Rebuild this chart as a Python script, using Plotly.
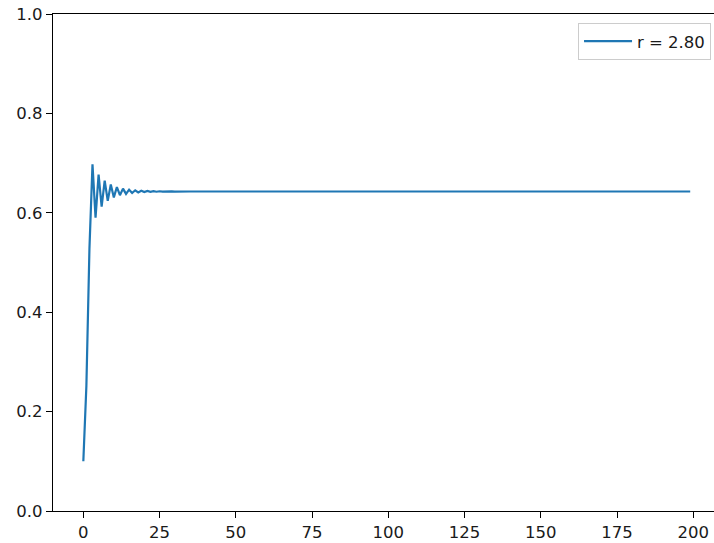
import plotly.graph_objects as go

# iteration index
steps = list(range(200))

# population values (r = 2.80)
head = [0.1, 0.252, 0.5278, 0.6978, 0.5904, 0.6771, 0.6122, 0.6648, 0.6240, 0.6570,
        0.6310, 0.6519, 0.6354, 0.6487, 0.6381, 0.6466, 0.6398, 0.6453, 0.6409, 0.6444,
        0.6416, 0.6439, 0.6421, 0.6435, 0.6424, 0.6433, 0.6425, 0.6431, 0.6427, 0.6430,
        0.6427, 0.6430, 0.6428, 0.6429, 0.6428]
tail = [0.6429, 0.6429, 0.6429, 0.6429, 0.6429, 0.6429, 0.6429, 0.6429, 0.6429, 0.6429,
        0.6429, 0.6429, 0.6429, 0.6429, 0.6429, 0.6429, 0.6429, 0.6429, 0.6429, 0.6429,
        0.6429, 0.6429, 0.6429, 0.6429, 0.6429, 0.6429, 0.6429, 0.6429, 0.6429, 0.6429,
        0.6429, 0.6429, 0.6429, 0.6429, 0.6429, 0.6429, 0.6429, 0.6429, 0.6429, 0.6429,
        0.6429, 0.6429, 0.6429, 0.6429, 0.6429, 0.6429, 0.6429, 0.6429, 0.6429, 0.6429,
        0.6429, 0.6429, 0.6429, 0.6429, 0.6429, 0.6429, 0.6429, 0.6429, 0.6429, 0.6429,
        0.6429, 0.6429, 0.6429, 0.6429, 0.6429, 0.6429, 0.6429, 0.6429, 0.6429, 0.6429,
        0.6429, 0.6429, 0.6429, 0.6429, 0.6429, 0.6429, 0.6429, 0.6429, 0.6429, 0.6429,
        0.6429, 0.6429, 0.6429, 0.6429, 0.6429, 0.6429, 0.6429, 0.6429, 0.6429, 0.6429,
        0.6429, 0.6429, 0.6429, 0.6429, 0.6429, 0.6429, 0.6429, 0.6429, 0.6429, 0.6429,
        0.6429, 0.6429, 0.6429, 0.6429, 0.6429, 0.6429, 0.6429, 0.6429, 0.6429, 0.6429,
        0.6429, 0.6429, 0.6429, 0.6429, 0.6429, 0.6429, 0.6429, 0.6429, 0.6429, 0.6429,
        0.6429, 0.6429, 0.6429, 0.6429, 0.6429, 0.6429, 0.6429, 0.6429, 0.6429, 0.6429,
        0.6429, 0.6429, 0.6429, 0.6429, 0.6429, 0.6429, 0.6429, 0.6429, 0.6429, 0.6429,
        0.6429, 0.6429, 0.6429, 0.6429, 0.6429, 0.6429, 0.6429, 0.6429, 0.6429, 0.6429,
        0.6429, 0.6429, 0.6429, 0.6429, 0.6429, 0.6429, 0.6429, 0.6429, 0.6429, 0.6429,
        0.6429, 0.6429, 0.6429, 0.6429, 0.6429]
values = head + tail

series_name = "r = 2.80"
x_ticks = [0, 25, 50, 75, 100, 125, 150, 175, 200]
y_ticks = [0.0, 0.2, 0.4, 0.6, 0.8, 1.0]

fig = go.Figure()
fig.add_trace(go.Scatter(x=steps[:len(values)], y=values, mode="lines", name=series_name,
                         line=dict(color="#1f77b4", width=2.2)))

font = dict(family="DejaVu Sans", size=16.5, color="#1a1a1a")
fig.update_layout(
    width=714, height=543,
    margin=dict(l=53, r=0, t=14, b=32),
    paper_bgcolor="white", plot_bgcolor="white",
    font=font,
    showlegend=True,
    legend=dict(x=0.9955, y=0.982, xanchor="right", yanchor="top",
                itemwidth=48,
                bordercolor="#cccccc", borderwidth=1, bgcolor="white",
                font=dict(family="DejaVu Sans", size=16.5, color="#1a1a1a")),
    xaxis=dict(range=[-9.95, 206.8], tickvals=x_ticks, ticktext=[str(t) for t in x_ticks],
               showgrid=False, zeroline=False, showline=True, linecolor="black", linewidth=1.3,
               mirror=True, ticks="outside", ticklen=6, tickcolor="black", tickwidth=1.3),
    yaxis=dict(range=[0, 1], tickvals=y_ticks, ticktext=[f"{t:.1f}" for t in y_ticks],
               showgrid=False, zeroline=False, showline=True, linecolor="black", linewidth=1.3,
               ticks="outside", ticklen=6, tickcolor="black", tickwidth=1.3),
)

fig.write_html("out.html", config={"displayModeBar": False},
               post_script="document.body.style.margin='0';document.body.style.overflow='hidden';")
